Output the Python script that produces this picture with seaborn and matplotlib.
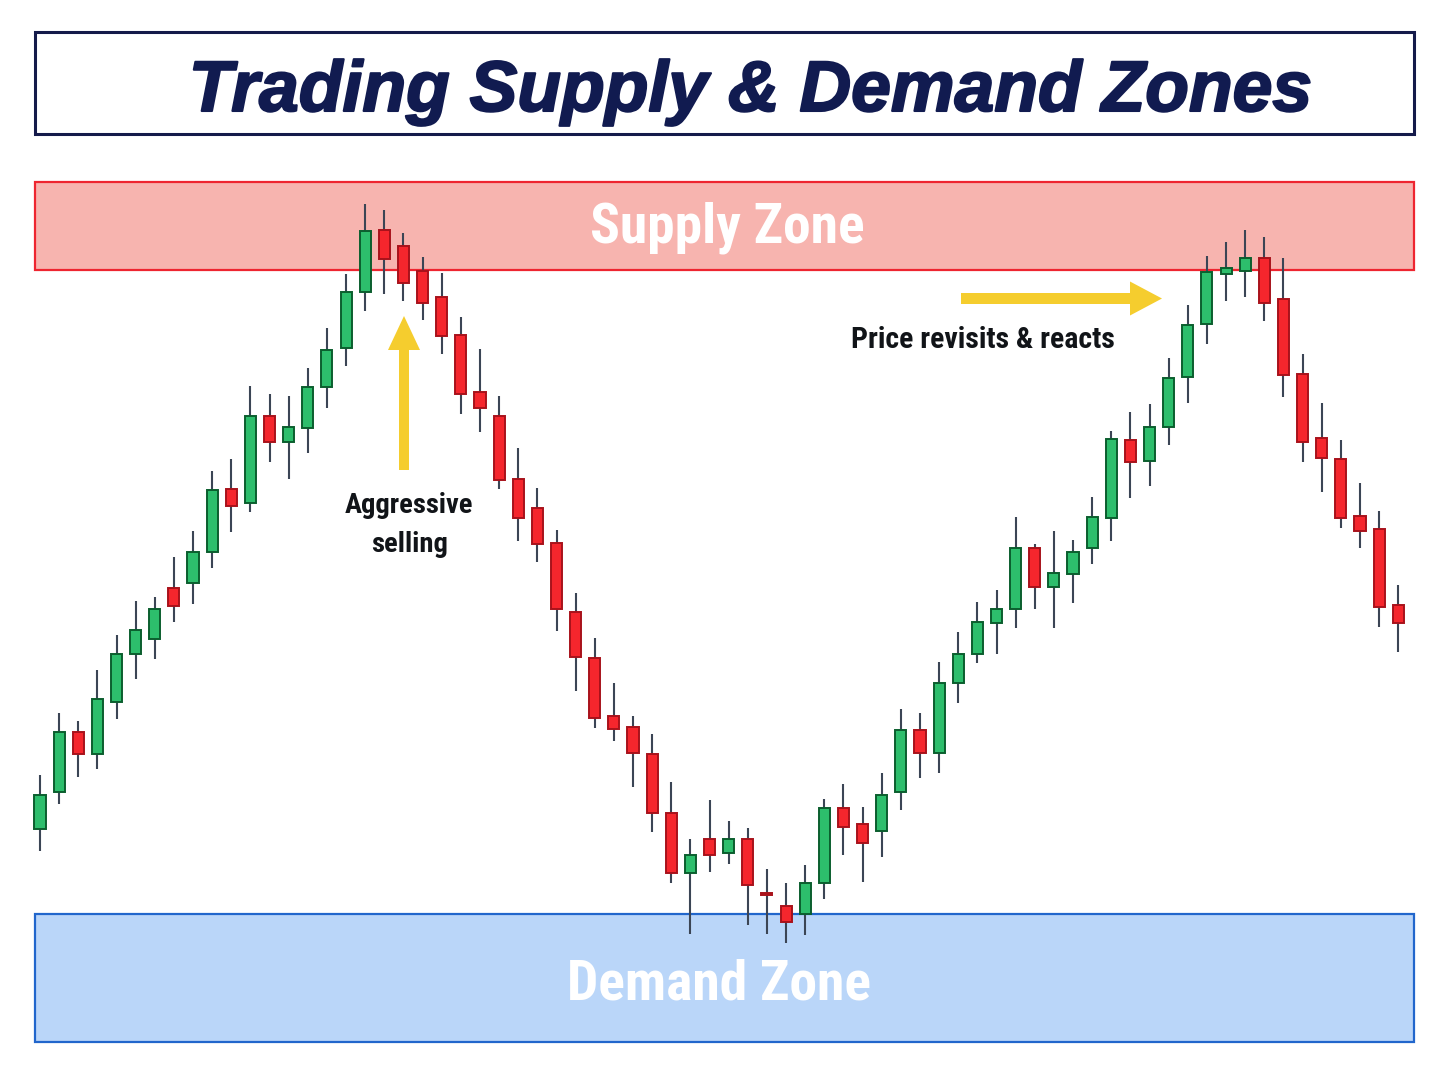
import matplotlib
matplotlib.use("Agg")
import matplotlib.pyplot as plt
import matplotlib.patches as mpatches
import matplotlib.patheffects as pe
from matplotlib import font_manager
import seaborn as sns
import pandas as pd

# candle data (arbitrary price units)
opens = [257, 294, 354, 332, 384, 432, 447, 498, 503, 534, 597, 583, 670, 644, 658, 699, 738, 794,
         856, 840, 815, 789, 751, 694, 670, 607, 578, 543, 474, 428, 370, 359, 332, 273, 213, 247,
         233, 247, 193, 180, 172, 203, 278, 262, 255, 294, 356, 333, 403, 432, 463, 477, 538, 499,
         512, 538, 568, 646, 625, 659, 709, 762, 812, 815, 828, 787, 712, 648, 627, 570, 557, 481]
highs = [311, 373, 365, 416, 451, 485, 489, 529, 555, 615, 627, 700, 692, 690, 718, 758, 812, 882,
         876, 853, 829, 813, 769, 737, 690, 638, 598, 556, 493, 448, 403, 370, 352, 304, 247, 286,
         265, 258, 217, 203, 221, 287, 302, 279, 313, 377, 373, 424, 454, 484, 496, 569, 542, 555,
         546, 589, 655, 674, 682, 728, 781, 830, 844, 856, 849, 828, 732, 683, 646, 603, 575, 501]
lows = [235, 282, 309, 317, 367, 407, 427, 464, 482, 518, 554, 574, 624, 607, 633, 678, 720, 775,
        792, 785, 766, 732, 672, 654, 597, 545, 524, 455, 395, 358, 345, 299, 254, 203, 152, 214,
        222, 161, 152, 143, 151, 187, 231, 204, 229, 276, 308, 313, 383, 423, 432, 458, 477, 458,
        483, 522, 545, 588, 600, 641, 683, 742, 785, 789, 765, 689, 624, 594, 558, 538, 459, 434]
closes = [291, 354, 332, 387, 432, 456, 477, 480, 534, 596, 580, 670, 644, 659, 699, 736, 794, 855,
          827, 803, 783, 750, 692, 678, 606, 568, 542, 477, 429, 368, 357, 333, 273, 213, 231, 231,
          247, 201, 191, 164, 203, 278, 259, 243, 291, 356, 333, 403, 432, 464, 477, 538, 499, 513,
          534, 569, 647, 624, 659, 708, 761, 814, 818, 828, 783, 711, 644, 628, 568, 555, 479, 463]

supply_zone = (816, 904)
demand_zone = (44, 172)

title = "Trading Supply & Demand Zones"
supply_label = "Supply Zone"
demand_label = "Demand Zone"
note_left = ["Aggressive", "selling"]
note_right = "Price revisits & reacts"

df = pd.DataFrame({"open": opens, "high": highs, "low": lows, "close": closes})
df["t"] = range(len(df))
df["up"] = df["close"] >= df["open"]

sns.set_theme(style="white")

# condensed font for the labels, if there is one
names = {f.name for f in font_manager.fontManager.ttflist}
narrow, k = "Liberation Sans", 0.82
for cand in ["Roboto Condensed", "Liberation Sans Narrow", "Archivo Narrow"]:
    if cand in names:
        narrow, k = cand, 1.0
        break

W, H = 1448, 1086
fig = plt.figure(figsize=(W / 100, H / 100), dpi=100)
fig.patch.set_facecolor("white")
ax = fig.add_axes([0, 0, 1, 1])
ax.axis("off")
x0, step = 40, 19.13
ax.set_xlim(-x0 / step, (W - x0) / step)
ax.set_ylim(0, H)

# zones
ax.axhspan(*supply_zone, xmin=35 / W, xmax=1414 / W, facecolor="#F7B4AF",
           edgecolor="#EE2530", lw=1.6, zorder=0)
ax.axhspan(*demand_zone, xmin=35 / W, xmax=1414 / W, facecolor="#BAD6F9",
           edgecolor="#2166CC", lw=1.6, zorder=0)

# candles
ax.vlines(df["t"], df["low"], df["high"], color="#3B4555", lw=1.5, zorder=2)
green = df[df["up"]]
red = df[~df["up"]]
ax.bar(green["t"], (green["close"] - green["open"]).clip(lower=2), bottom=green["open"],
       width=0.58, color="#2DBE6C", edgecolor="#0B5E2E", lw=1.4, zorder=3)
ax.bar(red["t"], (red["open"] - red["close"]).clip(lower=2), bottom=red["close"],
       width=0.58, color="#F5262D", edgecolor="#A8121B", lw=1.4, zorder=3)

fx = lambda px: px / W
fy = lambda py: 1 - py / H

# title box
fig.add_artist(mpatches.Rectangle((fx(35), fy(134)), (1414 - 35) / W, (134 - 32) / H,
                                  transform=fig.transFigure, fill=False,
                                  edgecolor="#141A4A", lw=2.2))
fig.text(fx(750), fy(111), title, ha="center", va="baseline", fontsize=51.5,
         family="Liberation Sans", weight="bold", style="italic", color="#111B50",
         path_effects=[pe.withStroke(linewidth=1.5, foreground="#111B50")])

fig.text(fx(727), fy(243), supply_label, ha="center", va="baseline", fontsize=40 * k,
         family=narrow, weight="bold", color="white")
fig.text(fx(719), fy(1000), demand_label, ha="center", va="baseline", fontsize=40 * k,
         family=narrow, weight="bold", color="white")
fig.text(fx(408.5), fy(513), note_left[0], ha="center", va="baseline", fontsize=20.5 * k,
         family=narrow, weight="bold", color="#111418")
fig.text(fx(410), fy(552), note_left[1], ha="center", va="baseline", fontsize=20.5 * k,
         family=narrow, weight="bold", color="#111418")
fig.text(fx(982.5), fy(348), note_right, ha="center", va="baseline", fontsize=21.5 * k,
         family=narrow, weight="bold", color="#111418")

# arrows
fig.add_artist(mpatches.FancyArrow(fx(404), fy(470), 0, fy(316) - fy(470), width=10 / W,
                                   head_width=32 / W, head_length=34 / H,
                                   length_includes_head=True, transform=fig.transFigure,
                                   color="#F5CD2E", lw=0))
fig.add_artist(mpatches.FancyArrow(fx(961), fy(298.5), fx(1162) - fx(961), 0, width=11 / H,
                                   head_width=34 / H, head_length=32 / W,
                                   length_includes_head=True, transform=fig.transFigure,
                                   color="#F5CD2E", lw=0))

fig.savefig("out.png", dpi=100)
